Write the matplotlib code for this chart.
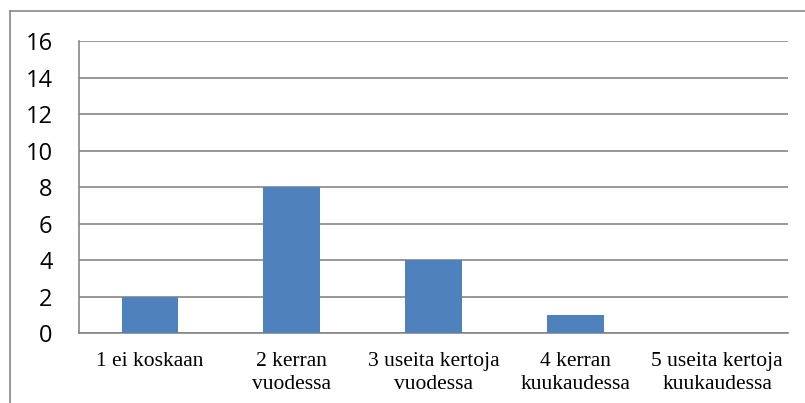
import matplotlib
matplotlib.use("Agg")
import matplotlib.pyplot as plt

categories = ["1 ei koskaan", "2 kerran\nvuodessa", "3 useita kertoja\nvuodessa",
              "4 kerran\nkuukaudessa", "5 useita kertoja\nkuukaudessa"]
values = [2, 8, 4, 1, 0]
yticks = [0, 2, 4, 6, 8, 10, 12, 14, 16]

W, H = 805, 403
fig = plt.figure(figsize=(W / 100, H / 100), dpi=100)
ax = fig.add_axes([79 / W, 1 - 333 / H, (788 - 79) / W, (333 - 41) / H])

x = list(range(len(categories)))
ax.bar(x, values, width=0.4, color="#4F81BD", zorder=3)
ax.set_xlim(-0.5, len(categories) - 0.5)
ax.set_ylim(0, 16)
ax.set_yticks(yticks)
ax.set_yticklabels([str(t) for t in yticks], fontfamily="Open Sans", fontsize=17)
ax.set_xticks(x)
ax.set_xticklabels(categories, fontfamily="Liberation Serif", fontsize=15.5,
                   linespacing=1.25, va="top")
ax.tick_params(axis="both", length=0)
ax.tick_params(axis="y", pad=19)
ax.tick_params(axis="x", pad=14)
ax.grid(axis="y", color="#868686", linewidth=1.2, zorder=0)
for s in ["top", "right"]:
    ax.spines[s].set_visible(False)
for s in ["left", "bottom"]:
    ax.spines[s].set_color("#868686")
    ax.spines[s].set_linewidth(1.2)

# outer chart border (only left and top visible in the crop)
fig.add_artist(plt.Line2D([9.5 / W, 9.5 / W], [0, 1 - 10.5 / H], color="#888888",
                          linewidth=1.2, transform=fig.transFigure))
fig.add_artist(plt.Line2D([9.5 / W, 1], [1 - 10.5 / H, 1 - 10.5 / H], color="#888888",
                          linewidth=1.2, transform=fig.transFigure))

fig.savefig("out.png", dpi=100)
